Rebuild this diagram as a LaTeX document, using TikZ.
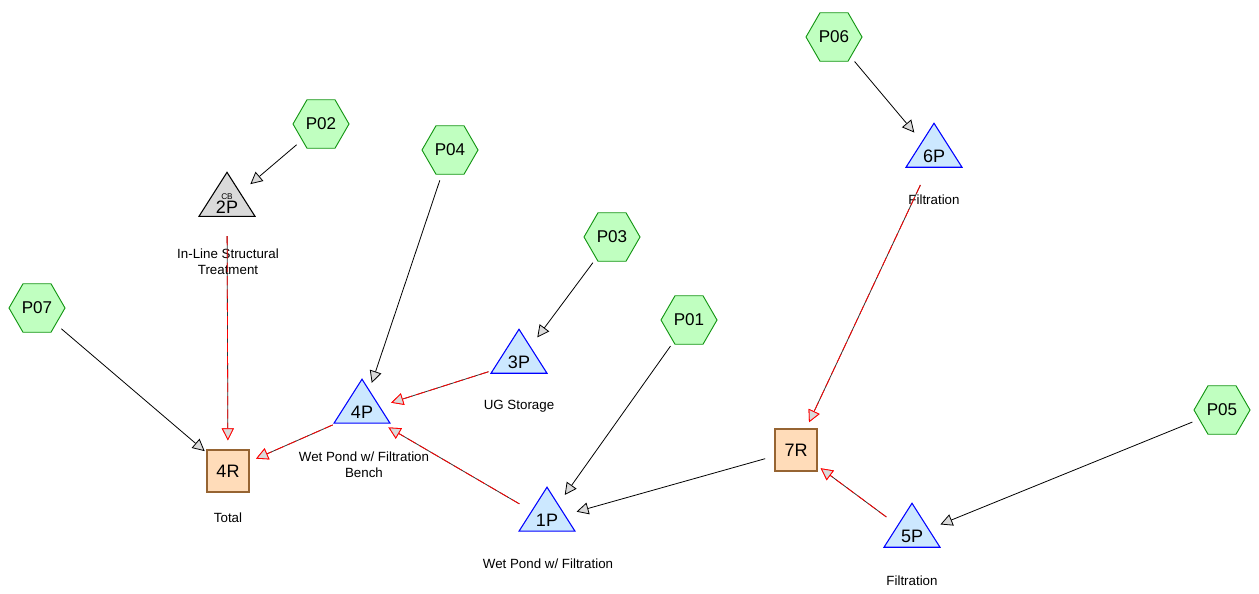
\documentclass[tikz,border=0pt]{standalone}
\usepackage{fontspec}
\setmainfont{Liberation Sans}
\usetikzlibrary{shapes.geometric,arrows.meta,positioning}
\definecolor{hexfill}{RGB}{192,255,192}
\definecolor{hexline}{RGB}{20,150,20}
\definecolor{pondfill}{RGB}{204,232,255}
\definecolor{reachfill}{RGB}{255,220,185}
\definecolor{reachline}{RGB}{150,100,50}
\definecolor{tipfill}{RGB}{218,218,218}

\begin{document}
\begin{tikzpicture}[
        x=0.75pt, y=-0.75pt,
        subcat/.style={regular polygon, regular polygon sides=6, minimum size=42pt, inner sep=0pt, line width=0.7pt, draw=hexline, fill=hexfill, font=\fontsize{12.8}{14}\selectfont},
        pond/.style={isosceles triangle, shape border rotate=90, isosceles triangle apex angle=65, isosceles triangle stretches, minimum width=42pt, minimum height=33pt, inner sep=0pt, line width=0.8pt, draw=blue, fill=pondfill, font=\fontsize{13.5}{14}\selectfont},
        reach/.style={rectangle, minimum size=31.5pt, inner sep=0pt, line width=0.8pt, draw=reachline, fill=reachfill, font=\fontsize{13.5}{14}\selectfont},
        caption/.style={align=center, font=\fontsize{10}{12}\selectfont},
        flow/.style={draw=black, line width=0.6pt, shorten <=24pt, shorten >=23pt, -{Triangle[length=9pt, width=9pt, fill=tipfill]}},
        routed/.style={draw=black!80, line width=0.6pt, shorten <=24pt, shorten >=23pt, -{Triangle[length=9pt, width=9pt, color=red, fill=tipfill]}, postaction={draw=red, dash pattern=on 7pt off 3pt}}
    ]
        \useasboundingbox (0,0) rectangle (1259,593);

        % Subcatchments
        \node[subcat] (p06) at (834,37) {P06};
        \node[subcat] (p02) at (321,124) {P02};
        \node[subcat] (p04) at (450,150) {P04};
        \node[subcat] (p03) at (612,237) {P03};
        \node[subcat] (p07) at (37,308) {P07};
        \node[subcat] (p01) at (689,320) {P01};
        \node[subcat] (p05) at (1222,410) {P05};

        % Ponds
        \node[pond] (pond6) at (934,156) {6P};
        \node[pond, draw=black, fill=tipfill, align=center] (cb2) at (227,204) {{\fontsize{6.2}{6.5}\selectfont CB}\\[-3.5pt]2P};
        \node[pond] (pond4) at (362,412) {4P};
        \node[pond] (pond3) at (519,362) {3P};
        \node[pond] (pond1) at (547,520) {1P};
        \node[pond] (pond5) at (912,536) {5P};

        % Reaches
        \node[reach] (reach4) at (228,471) {4R};
        \node[reach] (reach7) at (796,450) {7R};

        % Captions
        \node[caption] (lab6) at (934,200) {Filtration};
        \node[caption] (lab2) at (228,262) {In-Line Structural\\Treatment};
        \node[caption] (lab3) at (519,406) {UG Storage};
        \node[caption] (lab4) at (364,465) {Wet Pond w/ Filtration\\Bench};
        \node[caption] (lab4r) at (228,518) {Total};
        \node[caption] (lab1) at (548,564) {Wet Pond w/ Filtration};
        \node[caption] (lab5) at (912,581) {Filtration};

        % Arrows
        \draw[flow] (p06.center) -- (pond6.center);
        \draw[flow] (p02.center) -- (cb2.center);
        \draw[flow] (p04.center) -- (pond4.center);
        \draw[flow] (p03.center) -- (pond3.center);
        \draw[flow] (p07.center) -- (reach4.center);
        \draw[flow] (p01.center) -- (pond1.center);
        \draw[flow] (p05.center) -- (pond5.center);
        \draw[flow] (reach7.center) -- (pond1.center);
        \draw[routed] (pond6.center) -- (reach7.center);
        \draw[routed] (cb2.center) -- (reach4.center);
        \draw[routed] (pond3.center) -- (pond4.center);
        \draw[routed] (pond4.center) -- (reach4.center);
        \draw[routed] (pond1.center) -- (pond4.center);
        \draw[routed] (pond5.center) -- (reach7.center);
    \end{tikzpicture}
\end{document}
